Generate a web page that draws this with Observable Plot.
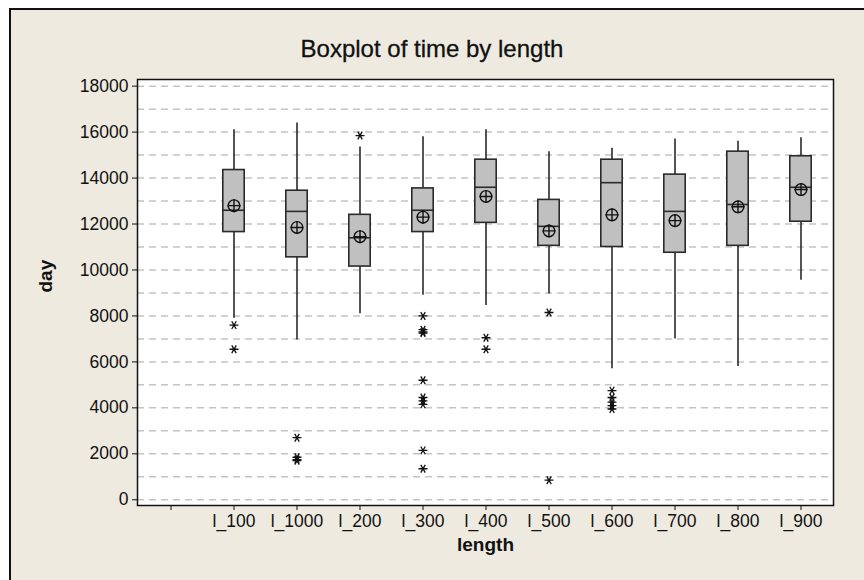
<!DOCTYPE html>
<html><head><meta charset="utf-8">
<script src="https://cdn.jsdelivr.net/npm/d3@7"></script>
<script src="https://cdn.jsdelivr.net/npm/@observablehq/plot@0.6"></script>
<style>
html,body{margin:0;padding:0;background:#fff;}
#wrap{position:relative;width:864px;height:580px;overflow:hidden;}
#panel{position:absolute;left:9px;top:8px;right:0;bottom:0;background:#EEEAE0;border-top:2px solid #111;border-left:2px solid #111;}
#title{position:absolute;left:0;width:864px;top:35px;text-align:center;font:24px "Liberation Sans",Arial,sans-serif;color:#111;-webkit-text-stroke:0.3px #111;}
#plot{position:absolute;left:0;top:0;}
</style></head><body>
<div id="wrap"><div id="panel"></div><div id="title">Boxplot of time by length</div><div id="plot"></div></div>
<script>
// categories on the x axis (first one is an empty level)
const categories = ["", "l_100", "l_1000", "l_200", "l_300", "l_400", "l_500", "l_600", "l_700", "l_800", "l_900"];
const groups = ["l_100", "l_1000", "l_200", "l_300", "l_400", "l_500", "l_600", "l_700", "l_800", "l_900"];
const whiskerLow  = [7900, 6950, 8100, 8900, 8450, 8950, 5700, 7000, 5800, 9550];
const q1          = [11650, 10550, 10150, 11650, 12050, 11050, 11000, 10750, 11050, 12100];
const median      = [12600, 12550, 11400, 12600, 13600, 11900, 13800, 12550, 12850, 13600];
const q3          = [14350, 13450, 12400, 13550, 14800, 13050, 14800, 14150, 15150, 14950];
const whiskerHigh = [16100, 16400, 15350, 15800, 16100, 15150, 15300, 15700, 15600, 15750];
const mean        = [12800, 11850, 11450, 12300, 13200, 11700, 12400, 12150, 12750, 13500];
// outliers
const outlierGroup = ["l_100", "l_100",
  "l_1000", "l_1000", "l_1000", "l_1000",
  "l_200",
  "l_300", "l_300", "l_300", "l_300", "l_300", "l_300", "l_300", "l_300", "l_300", "l_300",
  "l_400", "l_400",
  "l_500", "l_500",
  "l_600", "l_600", "l_600", "l_600", "l_600"];
const outlierValue = [7600, 6550,
  2700, 1850, 1750, 1700,
  15850,
  8000, 7400, 7300, 7250, 5200, 4450, 4300, 4150, 2150, 1350,
  7050, 6550,
  8150, 850,
  4750, 4450, 4250, 4100, 3950];
// axis ticks and grid
const yTicks = [0, 2000, 4000, 6000, 8000, 10000, 12000, 14000, 16000, 18000];
const gridLines = [0, 1000, 2000, 3000, 4000, 5000, 6000, 7000, 8000, 9000, 10000, 11000, 12000, 13000, 14000, 15000, 16000, 17000, 18000];

const idx = groups.map((_, i) => i);
const oIdx = outlierValue.map((_, i) => i);
const gx = i => groups[i];
const inset = 20.8;
const dark = "#2a2a2a";

// Minitab-style asterisk: horizontal bar with two diagonals
const minitabStar = {
  draw(ctx, size) {
    const r = Math.sqrt(size) * 0.6, t = r / 2, u = t * Math.sqrt(3);
    ctx.moveTo(-r, 0); ctx.lineTo(r, 0);
    ctx.moveTo(-t, -u); ctx.lineTo(t, u);
    ctx.moveTo(-t, u); ctx.lineTo(t, -u);
  }
};

const chart = Plot.plot({
  width: 864, height: 580,
  marginTop: 79, marginBottom: 75, marginLeft: 137, marginRight: 31,
  style: {background: "transparent", fontFamily: "'Liberation Sans', Arial, sans-serif", fontSize: "17px", color: "#111", overflow: "visible"},
  x: {type: "band", domain: categories, padding: 0, label: null},
  y: {domain: [-250, 18290], label: null},
  marks: [
    Plot.frame({fill: "white", stroke: "none"}),
    Plot.ruleY(gridLines, {stroke: "#c4c4c4", strokeWidth: 1.5, strokeDasharray: "7,5"}),
    Plot.frame({stroke: "#111", strokeWidth: 1.5}),
    Plot.axisY(yTicks, {tickSize: 5, tickPadding: 4, tickFormat: d => String(d), fontSize: 17.5, label: null}),
    Plot.axisX(categories, {tickSize: 5, tickPadding: 4, tickFormat: d => d, fontSize: 17.5, label: null}),
    Plot.ruleX(idx, {x: gx, y1: q3, y2: whiskerHigh, stroke: dark, strokeWidth: 1.6}),
    Plot.ruleX(idx, {x: gx, y1: whiskerLow, y2: q1, stroke: dark, strokeWidth: 1.6}),
    Plot.barY(idx, {x: gx, y1: q1, y2: q3, fill: "#c0c0c0", stroke: dark, strokeWidth: 1.6, insetLeft: inset, insetRight: inset}),
    Plot.tickY(idx, {x: gx, y: median, stroke: dark, strokeWidth: 1.6, insetLeft: inset, insetRight: inset}),
    Plot.dot(idx, {x: gx, y: mean, r: 5.8, fill: "none", stroke: "#111", strokeWidth: 1.4}),
    Plot.dot(idx, {x: gx, y: mean, r: 4.3, symbol: "plus", stroke: "#111", strokeWidth: 1.4}),
    Plot.dot(oIdx, {x: i => outlierGroup[i], y: i => outlierValue[i], r: 4.2, symbol: minitabStar, fill: "none", stroke: "#111", strokeWidth: 1.3}),
    Plot.text(["day"], {text: d => d, frameAnchor: "left", dx: -92, rotate: -90, fontWeight: "bold", fontSize: 19, fill: "#111"}),
    Plot.text(["length"], {text: d => d, frameAnchor: "bottom", dy: 45, fontWeight: "bold", fontSize: 19, fill: "#111"})
  ]
});
document.getElementById("plot").appendChild(chart);
</script>
</body></html>
